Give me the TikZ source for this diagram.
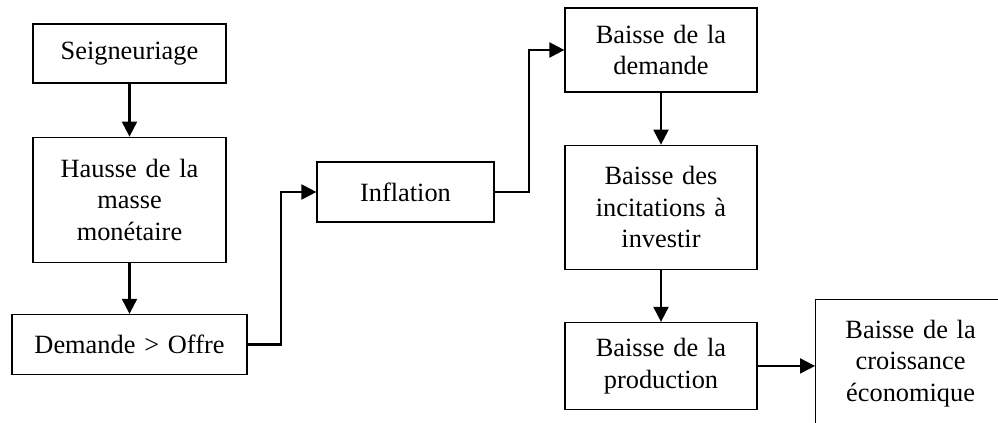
\documentclass[tikz,border=0pt]{standalone}
\usepackage{fontspec}
\setmainfont{Liberation Serif}
\usepackage{tikz}
\usetikzlibrary{arrows.meta,positioning,calc}

\begin{document}
\begin{tikzpicture}[
  box/.style={draw, line width=0.7pt, align=center, inner xsep=0pt, inner ysep=0pt, font=\fontsize{15}{18}\selectfont},
  arr/.style={-{Triangle[length=0.3cm, width=0.3cm]}, line width=1.2pt}]
\useasboundingbox (0,0) rectangle (19.96,-8.46);
\node[box, text width=3.86cm, minimum height=1.18cm] (seig) at (2.59,-1.07) {Seigneuriage};
\node[box, text width=3.86cm, minimum height=2.5cm, below=1.06cm of seig] (hausse) {Hausse de la\\masse\\monétaire};
\node[box, text width=4.7cm, minimum height=1.2cm, below=1.02cm of hausse] (dem) {Demande > Offre};
\node[box, text width=3.54cm, minimum height=1.2cm] (infl) at (8.11,-3.84) {Inflation};
\node[box, text width=3.84cm, minimum height=1.68cm] (bdem) at (13.22,-1.0) {Baisse de la\\demande};
\node[box, text width=3.84cm, minimum height=2.48cm, below=1.04cm of bdem] (incit) {Baisse des\\incitations à\\investir};
\node[box, text width=3.84cm, minimum height=1.74cm, below=1.04cm of incit] (prod) {Baisse de la\\production};
\node[box, text width=3.8cm, minimum height=2.56cm, anchor=north west] (crois) at (16.3,-5.98) {Baisse de la\\croissance\\économique};
\draw[arr] (seig) -- (hausse);
\draw[arr] (hausse.south) -- (hausse.south |- dem.north);
\draw[arr] (dem.east) -- ++(0.66,0) |- (infl.west);
\draw[arr] (infl.east) -- ++(0.68,0) |- (bdem.west);
\draw[arr] (bdem) -- (incit);
\draw[arr] (incit) -- (prod);
\draw[arr] (prod.east) -- (prod.east -| crois.west);
\end{tikzpicture}
\end{document}
